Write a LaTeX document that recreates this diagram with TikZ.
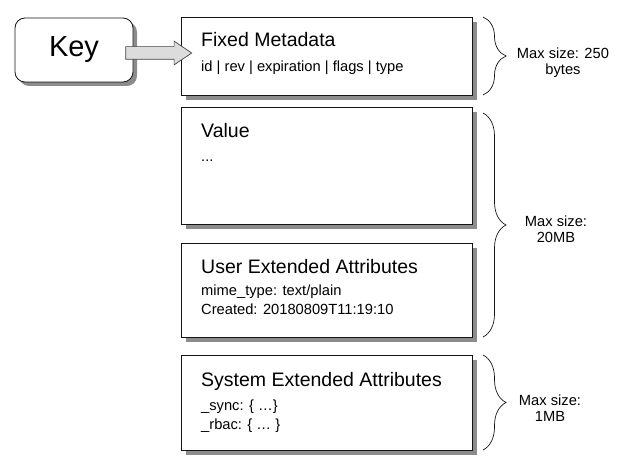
\documentclass[tikz,border=0pt]{standalone}
\usepackage{fontspec}
\setmainfont{Liberation Sans}
\usepackage{tikz}
\usetikzlibrary{shapes.arrows, shadows, decorations.pathreplacing, positioning, calc}
\definecolor{myline}{RGB}{20,20,20}
\definecolor{myshadow}{RGB}{140,140,140}
\definecolor{myarrow}{RGB}{220,220,220}
\tikzset{
  keybox/.style={rectangle, draw=myline, fill=white, rounded corners=10pt,
    minimum width=118pt, minimum height=64pt, line width=0.8pt,
    font=\fontsize{29}{32}\selectfont,
    general shadow={fill=myshadow, shadow xshift=4pt, shadow yshift=-4pt}},
  fieldbox/.style={rectangle, draw=myline, fill=white,
    minimum width=291pt, line width=0.8pt, inner sep=0pt,
    general shadow={fill=myshadow, shadow xshift=5pt, shadow yshift=-5pt}},
  title/.style={anchor=base west, inner sep=0pt, font=\fontsize{19.5}{22}\selectfont},
  detail/.style={anchor=base west, inner sep=0pt, font=\fontsize{14.7}{17}\selectfont},
  sizenote/.style={align=center, inner sep=0pt, font=\fontsize{14.7}{16}\selectfont},
  bracket/.style={decorate, decoration={brace, amplitude=23pt}, line width=0.7pt, color=myline}
}
\begin{document}
\begin{tikzpicture}[x=1pt, y=-1pt]
  \useasboundingbox (0,0) rectangle (624,476);

  % Boxes
  \node[keybox] (key) at (74,50) {Key};
  \node[fieldbox, minimum height=78pt] (meta) at (326.5,56) {};
  \node[fieldbox, minimum height=117pt] (value) at (326.5,165.5) {};
  \node[fieldbox, minimum height=94pt] (user) at (326.5,290) {};
  \node[fieldbox, minimum height=95pt] (sys) at (326.5,402.5) {};

  % Arrow from key
  \node[single arrow, draw=myline!80, fill=myarrow, line width=0.7pt,
    minimum width=23pt, single arrow head extend=5.5pt,
    single arrow tip angle=68, minimum height=66pt,
    inner xsep=0pt, inner ysep=6pt]
    (keyarrow) at (154,53) {};

  % Texts
  \node[title] (metatitle) at (201,47) {Fixed Metadata};
  \node[detail] (metafields) at (201,72) {id | rev | expiration | flags | type};
  \node[title] (valuetitle) at (201,138) {Value};
  \node[detail] (valuedots) at (201,162) {...};
  \node[title] (usertitle) at (201,273) {User Extended Attributes};
  \node[detail] (usermime) at (201,295) {mime\_type: text/plain};
  \node[detail] (usercreated) at (201,314) {Created: 20180809T11:19:10};
  \node[title] (systitle) at (201,386) {System Extended Attributes};
  \node[detail] (syssync) at (201,410) {\_sync: \{ …\}};
  \node[detail] (sysrbac) at (201,429) {\_rbac: \{ … \}};

  % Braces
  \draw[bracket] (483,17) -- (483,95);
  \draw[bracket] (483,113) -- (483,337);
  \draw[bracket] (483,355) -- (483,450);

  % Size notes
  \node[sizenote] (metasize) at (563,63) {Max size: 250\\bytes};
  \node[sizenote] (valuesize) at (556,229) {Max size:\\20MB};
  \node[sizenote] (syssize) at (550,408) {Max size:\\1MB};
\end{tikzpicture}
\end{document}
